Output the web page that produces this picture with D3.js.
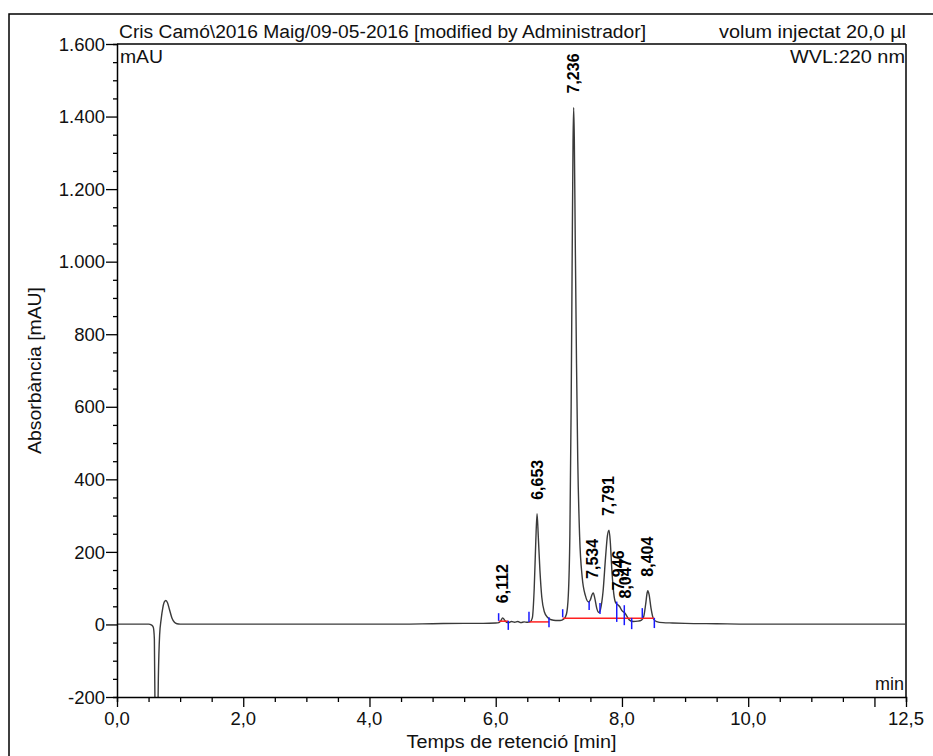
<!DOCTYPE html>
<html>
<head>
<meta charset="utf-8">
<script src="https://cdn.jsdelivr.net/npm/d3@7"></script>
<style>
  html, body { margin: 0; padding: 0; background: #fff; }
  svg { display: block; font-family: "Liberation Sans", Arial, sans-serif; }
</style>
</head>
<body>
<svg id="chart" width="933" height="756"></svg>
<script>
// ---------- DATA ----------
const traceTime = [0, 0.3, 0.5, 0.55, 0.575, 0.592, 0.605, 0.62, 0.64, 0.655, 0.675, 0.70, 0.725, 0.75, 0.775, 0.80, 0.83, 0.87, 0.91, 0.95,
  1.0, 1.5, 2.0, 2.5, 3.0, 3.5, 4.0, 4.5, 5.0, 5.5, 5.8, 6.0, 6.05, 6.08, 6.11, 6.14, 6.17, 6.2, 6.25, 6.3, 6.35, 6.4, 6.45, 6.5,
  6.55, 6.58, 6.61, 6.635, 6.655, 6.675, 6.70, 6.73, 6.77, 6.82, 6.88, 6.95, 7.02, 7.08, 7.12, 7.15, 7.175, 7.195, 7.21, 7.225,
  7.235, 7.245, 7.26, 7.28, 7.30, 7.33, 7.37, 7.42, 7.47, 7.50, 7.525, 7.545, 7.57, 7.60, 7.635, 7.66, 7.70, 7.74, 7.77, 7.795,
  7.815, 7.84, 7.87, 7.90, 7.935, 7.96, 8.0, 8.045, 8.08, 8.12, 8.18, 8.25, 8.31, 8.345, 8.375, 8.40, 8.41, 8.43, 8.46, 8.50,
  8.55, 8.65, 8.8, 9.0, 9.5, 10.0, 11.0, 12.0, 12.5];
const traceMAU = [1, 1, 1, -2, -8, -40, -300, -450, -350, -150, -30, 15, 45, 62, 66, 60, 42, 18, 6, 2,
  1, 1, 1, 1, 1, 1, 1, 1, 2, 3, 3, 4, 5, 10, 18, 12, 6, 5, 8, 6, 8, 5, 7, 6,
  8, 18, 100, 230, 305, 240, 150, 75, 35, 20, 13, 11, 11, 15, 28, 80, 250, 600, 980, 1330,
  1425, 1340, 1060, 720, 450, 240, 130, 80, 62, 68, 82, 87, 72, 45, 33, 42, 90, 185, 245, 260,
  228, 150, 85, 60, 54, 50, 38, 32, 22, 12, 8, 9, 12, 22, 55, 88, 93, 82, 45, 15,
  8, 5, 4, 3, 2, 1, 1, 1, 1];

const peakTimes  = [6.112, 6.653, 7.236, 7.534, 7.791, 7.946, 8.047, 8.404];
const peakLabels = ["6,112", "6,653", "7,236", "7,534", "7,791", "7,946", "8,047", "8,404"];
const peakHeights = [20, 305, 1425, 87, 260, 55, 33, 93];

// integration delimiters (time, top mAU, bottom mAU)
const markTimes  = [6.046, 6.199, 6.527, 6.844, 7.061, 7.48, 7.652, 7.917, 8.037, 8.154, 8.322, 8.513];
const markTop    = [31, 10, 35, 20, 42, 63, 59, 63, 53, 18, 45, 18];
const markBottom = [10, -15, 7, -8, 20, 40, 29, 7, -2, -13, 18, -10];

// baseline segments (start time, end time, level mAU)
const baseStart = [6.046, 6.527, 7.061];
const baseEnd   = [6.199, 6.844, 8.513];
const baseLevel = [9, 7, 17];

const xTickValues = [0, 2, 4, 6, 8, 10, 12, 12.5];
const xTickLabels = ["0,0", "2,0", "4,0", "6,0", "8,0", "10,0", "", "12,5"];
const yTickValues = [-200, 0, 200, 400, 600, 800, 1000, 1200, 1400, 1600];
const yTickLabels = ["-200", "0", "200", "400", "600", "800", "1.000", "1.200", "1.400", "1.600"];

const headerLeft = "Cris Camó\\2016 Maig/09-05-2016 [modified by Administrador]";
const headerRight = "volum injectat 20,0 µl";
const unitLabel = "mAU";
const wvlLabel = "WVL:220 nm";
const minLabel = "min";
const xTitle = "Temps de retenció [min]";
const yTitle = "Absorbància [mAU]";

// ---------- LAYOUT ----------
const L = 117, R = 906, T = 44, B = 697;
const svg = d3.select("#chart");
const x = d3.scaleLinear().domain([0, 12.5]).range([L, R]);
const y = d3.scaleLinear().domain([-200, 1600]).range([B, T]);

// outer frame
svg.append("rect").attr("x", 9).attr("y", 14).attr("width", 1000).attr("height", 1000)
  .attr("fill", "none").attr("stroke", "#000").attr("stroke-width", 1.5);

// plot box top & right
svg.append("line").attr("x1", L).attr("x2", R).attr("y1", T).attr("y2", T).attr("stroke", "#000").attr("stroke-width", 1.5);
svg.append("line").attr("x1", R).attr("x2", R).attr("y1", T).attr("y2", B).attr("stroke", "#000").attr("stroke-width", 1.5);

// clip
svg.append("clipPath").attr("id", "clip").append("rect")
  .attr("x", L).attr("y", T).attr("width", R - L).attr("height", B - T);

// trace
const pts = traceTime.map((t, i) => [t, traceMAU[i]]);
svg.append("path")
  .attr("clip-path", "url(#clip)")
  .attr("d", d3.line().x(d => x(d[0])).y(d => y(d[1])).curve(d3.curveMonotoneX)(pts))
  .attr("fill", "none").attr("stroke", "#3a3a3a").attr("stroke-width", 1.4);

// baseline segments
baseStart.forEach((s, i) => {
  svg.append("line").attr("x1", x(s)).attr("x2", x(baseEnd[i]))
    .attr("y1", y(baseLevel[i])).attr("y2", y(baseLevel[i]))
    .attr("stroke", "#ff2020").attr("stroke-width", 1.5);
});
// delimiter marks
markTimes.forEach((t, i) => {
  svg.append("line").attr("x1", x(t)).attr("x2", x(t))
    .attr("y1", y(markTop[i])).attr("y2", y(markBottom[i]))
    .attr("stroke", "#1a1aff").attr("stroke-width", 1.5);
});

// peak labels
peakTimes.forEach((t, i) => {
  svg.append("text")
    .attr("transform", `translate(${x(t)},${y(peakHeights[i]) - 14}) rotate(-90)`)
    .attr("text-anchor", "start").attr("dy", "0.35em")
    .attr("font-size", 16).attr("font-weight", "bold").attr("fill", "#000")
    .text(peakLabels[i]);
});

// x axis
const xAxis = d3.axisBottom(x).tickValues(d3.range(0, 12.51, 0.5)).tickSize(5).tickFormat("");
const gx = svg.append("g").attr("transform", `translate(0,${B})`).call(xAxis);
gx.select(".domain").attr("stroke-width", 1.5);
gx.selectAll(".tick line").attr("stroke-width", 1.3)
  .attr("y2", d => xTickValues.some(v => Math.abs(v - d) < 1e-6) ? 10 : 5);
xTickValues.forEach((v, i) => {
  svg.append("text").attr("x", x(v)).attr("y", 725).attr("text-anchor", "middle")
    .attr("font-size", 18.5).attr("fill", "#111").text(xTickLabels[i]);
});

// y axis
const yAxis = d3.axisLeft(y).tickValues(d3.range(-200, 1601, 50)).tickSize(4).tickFormat("");
const gy = svg.append("g").attr("transform", `translate(${L},0)`).call(yAxis);
gy.select(".domain").attr("stroke-width", 1.5);
gy.selectAll(".tick line").attr("stroke-width", 1.3)
  .attr("x2", d => yTickValues.includes(d) ? -11 : -4);
yTickValues.forEach((v, i) => {
  svg.append("text").attr("x", 105).attr("y", y(v)).attr("dy", "0.36em").attr("text-anchor", "end")
    .attr("font-size", 18.5).attr("fill", "#111").text(yTickLabels[i]);
});

// texts (stretched to the reference's wider lettering)
function label(xp, yp, anchor, str, len) {
  const t = svg.append("text").attr("x", xp).attr("y", yp).attr("text-anchor", anchor)
    .attr("font-size", 18).attr("fill", "#111").text(str);
  if (len) t.attr("textLength", len).attr("lengthAdjust", "spacingAndGlyphs");
  return t;
}
label(119, 38, "start", headerLeft, 527);
label(906, 38, "end", headerRight, 187);
label(120, 63, "start", unitLabel, 43);
label(905, 63, "end", wvlLabel, 115);
label(904, 690, "end", minLabel, 29);
label((L + R) / 2, 748, "middle", xTitle, 210);
svg.append("text").attr("transform", `translate(41,${(T + B) / 2}) rotate(-90)`).attr("text-anchor", "middle")
  .attr("font-size", 18).attr("fill", "#111")
  .attr("textLength", 167).attr("lengthAdjust", "spacingAndGlyphs").text(yTitle);
</script>
</body>
</html>
